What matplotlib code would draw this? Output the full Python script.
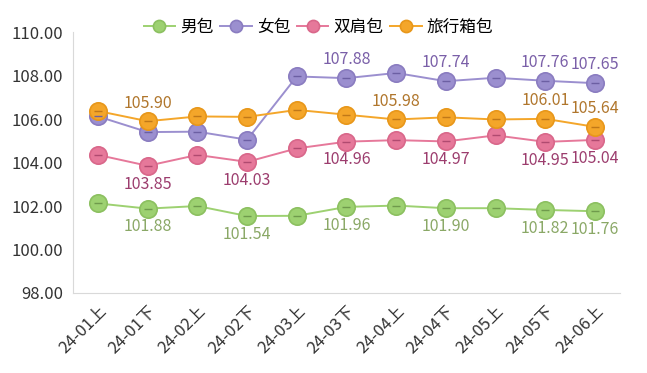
import numpy as np
import matplotlib.pyplot as plt
import matplotlib.transforms as mtransforms

plt.rcParams['font.family'] = ['Noto Sans CJK SC', 'DejaVu Sans']

periods = ['24-01上', '24-01下', '24-02上', '24-02下', '24-03上', '24-03下',
           '24-04上', '24-04下', '24-05上', '24-05下', '24-06上']
men = [102.12, 101.88, 102.00, 101.54, 101.55, 101.96, 102.02, 101.90, 101.90, 101.82, 101.76]
women = [106.12, 105.40, 105.42, 105.05, 107.96, 107.88, 108.12, 107.74, 107.90, 107.76, 107.65]
backpack = [104.35, 103.85, 104.35, 104.03, 104.65, 104.96, 105.03, 104.97, 105.25, 104.95, 105.04]
luggage = [106.37, 105.90, 106.12, 106.10, 106.42, 106.20, 105.98, 106.08, 105.98, 106.01, 105.64]

names = ['男包', '女包', '双肩包', '旅行箱包']
series = [men, women, backpack, luggage]
colors = ['#9dd171', '#9b8fcf', '#e6789a', '#f4a62a']
edges = ['#8cc060', '#8a7cc0', '#d9678a', '#e8971a']
dash_colors = ['#6f9a4c', '#6c5fa3', '#b04a70', '#c07818']
label_colors = ['#8aa866', '#7a5fa8', '#9c3d6e', '#b0762c']

# which points get a value label, and whether above (1) or below (-1)
label_idx = [
    {1: -1, 3: -1, 5: -1, 7: -1, 9: -1, 10: -1},
    {5: 1, 7: 1, 9: 1, 10: 1},
    {1: -1, 3: -1, 5: -1, 7: -1, 9: -1, 10: -1},
    {1: 1, 6: 1, 9: 1, 10: 1},
]

fig = plt.figure(figsize=(6.47, 3.73), dpi=100)
ax = fig.add_axes([0.113, 0.2145, 0.845, 0.6995])
x = np.arange(len(periods))

handles = []
for s, name, c, ec, dc in zip(series, names, colors, edges, dash_colors):
    h, = ax.plot(x, s, color=c, lw=1.4, marker='o', ms=12.5, mfc=c, mec=ec,
                 mew=1.2, label=name, zorder=3)
    ax.plot(x, s, ls='none', marker='_', ms=6, mew=1.0, color=dc, zorder=4)
    handles.append(h)

for s, c, lab in zip(series, label_colors, label_idx):
    for i, d in lab.items():
        ax.annotate('%.2f' % s[i], (x[i], s[i]), xytext=(0, 7 * d),
                    textcoords='offset points', ha='center',
                    va='bottom' if d > 0 else 'top', fontsize=11.5, color=c)

ax.set_xlim(-0.5, len(periods) - 0.5)
ax.set_ylim(98, 110)
ax.set_yticks(np.arange(98, 110.1, 2))
ax.set_yticklabels(['%.2f' % v for v in np.arange(98, 110.1, 2)], fontsize=12, color='#333333')
ax.set_xticks(x)
ax.set_xticklabels(periods, rotation=45, ha='right', va='top',
                   rotation_mode='anchor', fontsize=12, color='#333333')
shift = mtransforms.ScaledTranslation(-0.06, -0.05, fig.dpi_scale_trans)
for t in ax.get_xticklabels():
    t.set_transform(t.get_transform() + shift)
ax.tick_params(axis='x', length=0, pad=7)
ax.tick_params(axis='y', length=0, pad=7)
for sp in ['top', 'right']:
    ax.spines[sp].set_visible(False)
ax.spines['left'].set_color('#d9d9d9')
ax.spines['bottom'].set_color('#d9d9d9')

leg = fig.legend(handles=handles, loc='center', bbox_to_anchor=(0.492, 0.927), ncol=4,
                 frameon=False, fontsize=12, handlelength=1.9, handletextpad=0.3,
                 columnspacing=0.4, markerscale=0.7)

fig.savefig('out.png', dpi=100)
